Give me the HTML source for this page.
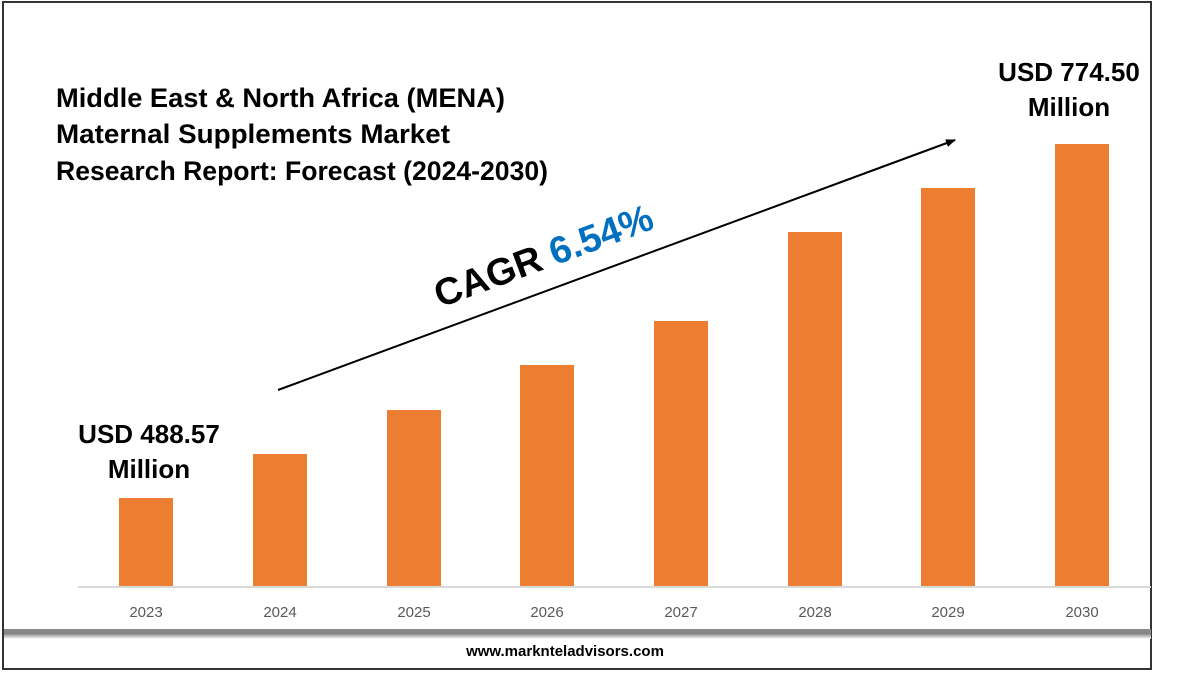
<!DOCTYPE html>
<html><head><meta charset="utf-8"><style>
body{margin:0;background:#fff;}
svg{display:block;}
</style></head><body>
<svg width="1199" height="674" xmlns="http://www.w3.org/2000/svg" font-family="'Liberation Sans',sans-serif">
<defs><marker id="ah" markerWidth="10" markerHeight="8" refX="9" refY="4" orient="auto" markerUnits="userSpaceOnUse"><path d="M0,0 L10,4 L0,8 z" fill="#000"/></marker>
<linearGradient id="sh" x1="0" y1="0" x2="0" y2="1"><stop offset="0" stop-color="#777"/><stop offset="1" stop-color="#fff"/></linearGradient></defs>
<rect x="3" y="2" width="1148" height="667" fill="#fff" stroke="#333" stroke-width="2"/>
<rect x="4" y="629" width="1147" height="4" fill="#888"/>
<rect x="4" y="633" width="1147" height="6" fill="url(#sh)"/>
<line x1="78" y1="587" x2="1151" y2="587" stroke="#d9d9d9" stroke-width="2"/>
<g fill="#ed7d31">
<rect x="119" y="498" width="54" height="88"/>
<rect x="253" y="454" width="54" height="132"/>
<rect x="387" y="410" width="54" height="176"/>
<rect x="520" y="365" width="54" height="221"/>
<rect x="654" y="321" width="54" height="265"/>
<rect x="788" y="232" width="54" height="354"/>
<rect x="921" y="188" width="54" height="398"/>
<rect x="1055" y="144" width="54" height="442"/>
</g>
<g fill="#595959" font-size="15" text-anchor="middle">
<text x="146" y="617">2023</text><text x="280" y="617">2024</text><text x="414" y="617">2025</text><text x="547" y="617">2026</text><text x="681" y="617">2027</text><text x="815" y="617">2028</text><text x="948" y="617">2029</text><text x="1082" y="617">2030</text>
</g>
<text x="565" y="656" font-size="15" font-weight="bold" text-anchor="middle" fill="#000">www.marknteladvisors.com</text>
<g font-size="27" font-weight="bold" fill="#000">
<text x="56" y="107" textLength="449" lengthAdjust="spacingAndGlyphs">Middle East &amp; North Africa (MENA)</text>
<text x="56" y="143" textLength="394" lengthAdjust="spacingAndGlyphs">Maternal Supplements Market</text>
<text x="56" y="180" textLength="492" lengthAdjust="spacingAndGlyphs">Research Report: Forecast (2024-2030)</text>
</g>
<g font-size="26" font-weight="bold" fill="#000" text-anchor="middle">
<text x="149" y="443">USD 488.57</text><text x="149" y="478">Million</text>
<text x="1069" y="81">USD 774.50</text><text x="1069" y="116">Million</text>
</g>
<line x1="278" y1="390" x2="955" y2="140" stroke="#000" stroke-width="2" marker-end="url(#ah)"/>
<text x="548" y="268" font-size="38" font-weight="bold" text-anchor="middle" transform="rotate(-20.3 548 268)"><tspan fill="#000">CAGR </tspan><tspan fill="#0070c0">6.54%</tspan></text>
</svg>
</body></html>
